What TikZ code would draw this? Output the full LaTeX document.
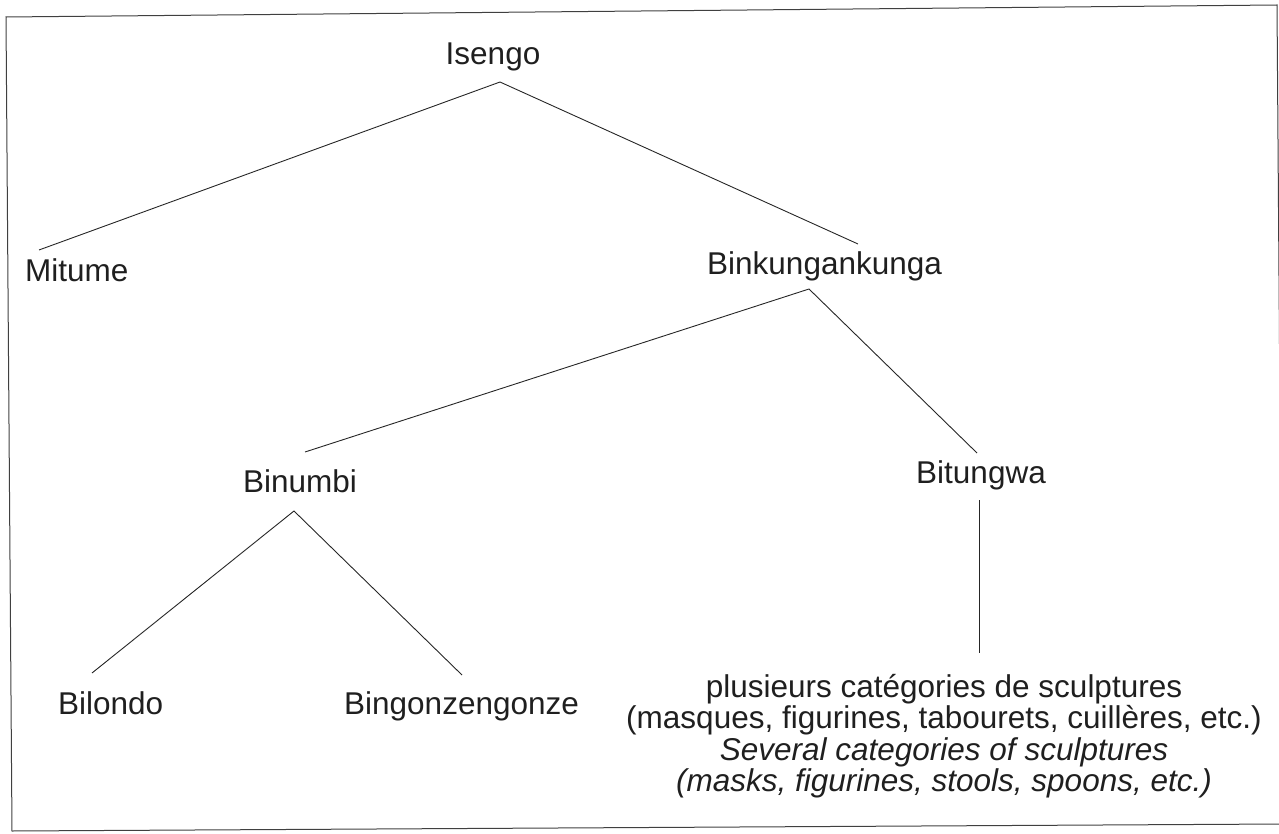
\documentclass[tikz,border=0pt]{standalone}
\usepackage{fontspec}
\setmainfont{Liberation Sans}
\begin{document}
\begin{tikzpicture}[x=1pt,y=-1pt,
  lbl/.style={inner sep=0pt,text=black!88,font=\fontsize{31.5}{29}\selectfont},
  edge/.style={draw=black!85,line width=0.9pt}]
\useasboundingbox (0,0) rectangle (1279,834);
\draw[black!75,line width=1pt] (6,17) -- (1277,5) -- (1283,824) -- (12,831) -- cycle;
% nodes
\node[lbl,anchor=base] (isengo) at (493,65) {Isengo};
\node[lbl,anchor=base west] (mitume) at (25,282) {Mitume};
\node[lbl,anchor=base west] (bink) at (707,275) {Binkungankunga};
\node[lbl,anchor=base west] (binumbi) at (243,492) {Binumbi};
\node[lbl,anchor=base west] (bitungwa) at (916,483) {Bitungwa};
\node[lbl,anchor=base west] (bilondo) at (58,714) {Bilondo};
\node[lbl,anchor=base west] (bingon) at (344,714) {Bingonzengonze};
\node[lbl,anchor=base] (sculpt) at (944,697)
  {\begin{tabular}[t]{@{}c@{}}plusieurs catégories de sculptures\\
   (masques, figurines, tabourets, cuillères, etc.)\\
   \itshape Several categories of sculptures\\
   \itshape (masks, figurines, stools, spoons, etc.)\end{tabular}};
% connector points
\coordinate (a1) at (500,82);
\coordinate (e1) at (39,250);
\coordinate (e2) at (858,244);
\coordinate (a2) at (809,289);
\coordinate (e3) at (305,452);
\coordinate (e4) at (977,453);
\coordinate (a3) at (294,511);
\coordinate (e5) at (92,673);
\coordinate (e6) at (462,675);
\coordinate (v1) at (979,500);
\coordinate (v2) at (979,653);
\draw[edge] (e1) -- (a1) -- (e2);
\draw[edge] (e3) -- (a2) -- (e4);
\draw[edge] (e5) -- (a3) -- (e6);
\draw[edge] (v1) -- (v2);
\end{tikzpicture}
\end{document}
